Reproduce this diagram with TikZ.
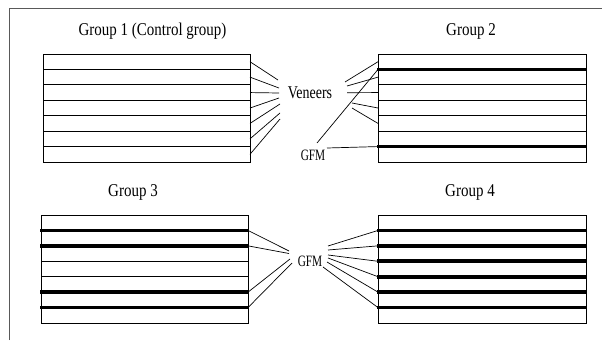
\documentclass[tikz,border=0pt]{standalone}
\usepackage{fontspec}
\setmainfont{Liberation Serif}
\newcommand{\tallt}[2]{\scalebox{1}[#1]{#2}}
\begin{document}
\begin{tikzpicture}[x=1pt,y=-1pt,
  frame/.style={draw=black!65, line width=1pt},
  boxline/.style={draw=black, line width=0.9pt},
  layer/.style={draw=black, line width=0.8pt},
  gfmline/.style={draw=black, line width=3.6pt},
  lead/.style={draw=black, line width=0.7pt},
  title/.style={font=\fontsize{15}{17}\selectfont, inner sep=0pt, anchor=base},
  lab/.style={font=\fontsize{14}{16}\selectfont, inner sep=0pt, anchor=base},
  gfmlab/.style={font=\fontsize{11.3}{13}\selectfont, inner sep=0pt, anchor=base}]
\useasboundingbox (0,0) rectangle (602,340);
\fill[white] (0,0) rectangle (602,340);
\draw[frame] (9,340) -- (9,8) -- (602,8);

% titles
\node[title] (t1) at (152.5,35) {\tallt{1.2}{Group 1 (Control group)}};
\node[title] (t2) at (471,35) {\tallt{1.2}{Group 2}};
\node[title] (t3) at (133,196) {\tallt{1.2}{Group 3}};
\node[title] (t4) at (470,196) {\tallt{1.2}{Group 4}};

% labels
\node[lab] (ven) at (310,98.3) {\tallt{1.28}{Veneers}};
\node[gfmlab] (gfmA) at (313,160) {\tallt{1.4}{GFM}};
\node[gfmlab] (gfmB) at (310,266.5) {\tallt{1.4}{GFM}};

% group 1 box
\def\hl{15.4286}
\draw[boxline] (43,54) rectangle (250,162);
\foreach \k in {1,...,6} \draw[layer] (43,54+\k*\hl) -- (250,54+\k*\hl);
\foreach \k in {1,...,7} \coordinate (g1m\k) at (250,54+\k*\hl-0.5*\hl);

% group 2 box
\draw[boxline] (378,54) rectangle (586,162);
\foreach \k in {2,...,5} \draw[layer] (378,54+\k*\hl) -- (586,54+\k*\hl);
\foreach \k in {1,6} \draw[gfmline] (377,54+\k*\hl) -- (587,54+\k*\hl);
\foreach \k in {1,...,7} \coordinate (g2m\k) at (378,54+\k*\hl-0.5*\hl);
\foreach \k in {1,...,6} \coordinate (g2f\k) at (378,54+\k*\hl);

% group 3 box
\draw[boxline] (41,215) rectangle (248,323);
\foreach \k in {3,4} \draw[layer] (41,215+\k*\hl) -- (248,215+\k*\hl);
\foreach \k in {1,2,5,6} \draw[gfmline] (40,215+\k*\hl) -- (249,215+\k*\hl);
\foreach \k in {1,...,6} \coordinate (g3f\k) at (248,215+\k*\hl);

% group 4 box
\draw[boxline] (378,215) rectangle (586,323);
\foreach \k in {1,...,6} \draw[gfmline] (377,215+\k*\hl) -- (587,215+\k*\hl);
\foreach \k in {1,...,6} \coordinate (g4f\k) at (378,215+\k*\hl);

% veneer leads, group 1
\coordinate (v1a) at (278,80);
\coordinate (v1b) at (279,88);
\coordinate (v1c) at (279,93);
\coordinate (v1d) at (279,98);
\coordinate (v1e) at (280,104);
\coordinate (v1f) at (280,113);
\coordinate (v1g) at (280,119);
\draw[lead] (v1a) -- (g1m1);
\draw[lead] (v1b) -- (g1m2);
\draw[lead] (v1c) -- (g1m3);
\draw[lead] (v1d) -- (g1m4);
\draw[lead] (v1e) -- (g1m5);
\draw[lead] (v1f) -- (g1m6);
\draw[lead] (v1g) -- (g1m7);

% veneer leads, group 2
\coordinate (v2a) at (345,82);
\coordinate (v2b) at (347,86);
\coordinate (v2c) at (347,92.7);
\coordinate (v2d) at (352,103);
\coordinate (v2e) at (352,108);
\draw[lead] (v2a) -- (g2m1);
\draw[lead] (v2b) -- (g2m2);
\draw[lead] (v2c) -- (g2m3);
\draw[lead] (v2d) -- (g2m4);
\draw[lead] (v2e) -- (g2m5);

% GFM leads, group 2
\coordinate (fa1) at (317,143);
\coordinate (fa2) at (327,148);
\draw[lead] (fa1) -- (g2f1);
\draw[lead] (fa2) -- (g2f6);

% GFM leads, group 3
\coordinate (fb1) at (289,251);
\coordinate (fb2) at (289,253.5);
\coordinate (fb3) at (290,259);
\coordinate (fb4) at (292,263);
\draw[lead] (fb1) -- (g3f1);
\draw[lead] (fb2) -- (g3f2);
\draw[lead] (fb3) -- (g3f5);
\draw[lead] (fb4) -- (g3f6);

% GFM leads, group 4
\coordinate (fc1) at (328,246);
\coordinate (fc2) at (328,250);
\coordinate (fc3) at (328,255);
\coordinate (fc4) at (328,258);
\coordinate (fc5) at (327,262);
\coordinate (fc6) at (323,267);
\draw[lead] (fc1) -- (g4f1);
\draw[lead] (fc2) -- (g4f2);
\draw[lead] (fc3) -- (g4f3);
\draw[lead] (fc4) -- (g4f4);
\draw[lead] (fc5) -- (g4f5);
\draw[lead] (fc6) -- (g4f6);
\end{tikzpicture}
\end{document}
